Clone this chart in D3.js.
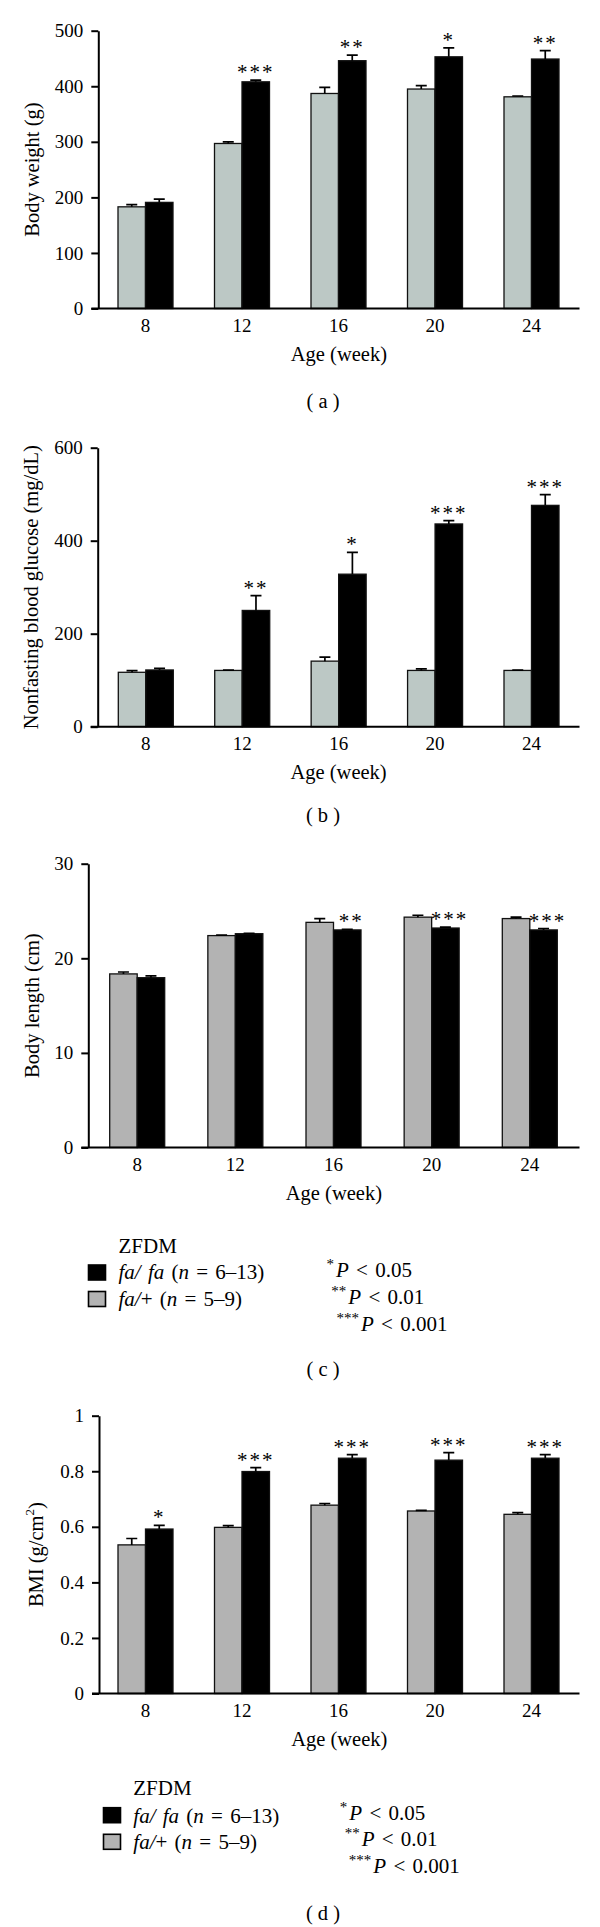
<!DOCTYPE html>
<html>
<head>
<meta charset="utf-8">
<script src="https://cdn.jsdelivr.net/npm/d3@7"></script>
<style>
  body { margin: 0; background: #fff; }
  svg { display: block; }
  text { font-family: "Liberation Serif", "Times New Roman", serif; fill: #000; }
</style>
</head>
<body>
<svg id="canvas" width="600" height="1927"></svg>
<script>
// Data (mean and upper SEM for each age)

const ages = ["8", "12", "16", "20", "24"];
const groups = ["fa/+", "fa/fa"];

// (a) body weight (g)
const weightLean = [183, 297, 387, 395, 381];
const weightLeanErr = [4, 3, 11, 6, 1.5];
const weightObese = [191, 408, 446, 453, 449];
const weightObeseErr = [6, 3, 10, 16, 15];
const weightStars = ["", "***", "**", "*", "**"];
const weightTicks = [0, 100, 200, 300, 400, 500];

// (b) nonfasting blood glucose (mg/dL)
const glucoseLean = [117, 121, 141, 121, 121];
const glucoseLeanErr = [3.5, 0.5, 8.5, 3.5, 0.5];
const glucoseObese = [122, 250, 328, 436, 476];
const glucoseObeseErr = [3.5, 32, 47, 7, 23];
const glucoseStars = ["", "**", "*", "***", "***"];
const glucoseTicks = [0, 200, 400, 600];

// (c) body length (cm)
const lengthLean = [18.35, 22.4, 23.8, 24.35, 24.2];
const lengthLeanErr = [0.2, 0.05, 0.4, 0.2, 0.15];
const lengthObese = [17.95, 22.6, 23.0, 23.2, 23.0];
const lengthObeseErr = [0.2, 0.05, 0.05, 0.1, 0.15];
const lengthStars = ["", "", "**", "***", "***"];
const lengthTicks = [0, 10, 20, 30];

// (d) BMI (g/cm2)
const bmiLean = [0.535, 0.598, 0.678, 0.657, 0.645];
const bmiLeanErr = [0.023, 0.006, 0.006, 0.002, 0.006];
const bmiObese = [0.592, 0.799, 0.847, 0.84, 0.847];
const bmiObeseErr = [0.013, 0.014, 0.013, 0.027, 0.013];
const bmiStars = ["*", "***", "***", "***", "***"];
const bmiTicks = [0, 0.2, 0.4, 0.6, 0.8, 1];

// legend text
const legendTitle = "ZFDM";
const legendItems = [
  { pieces: [["fa/ fa", true]], n: "6–13" },
  { pieces: [["fa/", true], ["+", false]], n: "5–9" }
];
const pLevels = [["*", "0.05"], ["**", "0.01"], ["***", "0.001"]];


const svg = d3.select("#canvas");

function drawPanel(p) {
  const g = svg.append("g");

  const y = d3.scaleLinear().domain([0, d3.max(p.ticks)]).range([p.bottom, p.top]);
  const x = d3.scalePoint().domain(ages).range(p.centers);
  const sub = d3.scaleBand().domain(groups).range([-27, 28]);
  const bw = sub.bandwidth();

  const rows = ages.map((a, i) => ({
    age: a, i: i,
    bars: [
      { key: "fa/+", v: p.lean[i], e: p.leanErr[i] },
      { key: "fa/fa", v: p.obese[i], e: p.obeseErr[i] }
    ]
  }));

  const grp = g.selectAll("g.age").data(rows).join("g")
      .attr("class", "age")
      .attr("transform", d => "translate(" + x(d.age) + ",0)");

  grp.selectAll("rect").data(d => d.bars).join("rect")
      .attr("x", d => sub(d.key))
      .attr("width", bw)
      .attr("y", d => y(d.v))
      .attr("height", d => y(0) - y(d.v))
      .attr("fill", d => d.key === "fa/fa" ? "#000" : p.gray)
      .attr("stroke", "#111")
      .attr("stroke-width", 1.3);

  // upper error bars only
  grp.selectAll("path.err").data(d => d.bars).join("path")
      .attr("class", "err")
      .attr("d", d => {
        const cx = sub(d.key) + bw / 2, y1 = y(d.v), y2 = y(d.v + d.e);
        return "M" + cx + "," + y1 + "V" + y2 + "M" + (cx - 5.5) + "," + y2 + "H" + (cx + 5.5);
      })
      .attr("fill", "none")
      .attr("stroke", "#000")
      .attr("stroke-width", 1.7);

  // significance stars over the fa/fa bar
  grp.append("text")
      .attr("x", sub("fa/fa") + bw / 2 + p.starShift)
      .attr("y", d => y(p.obese[d.i] + p.obeseErr[d.i]) - 1)
      .attr("text-anchor", "middle")
      .attr("font-size", 21)
      .attr("letter-spacing", 2)
      .text(d => p.stars[d.i]);

  // x axis line, runs from the y tick ends to the right edge
  g.append("line")
      .attr("x1", p.axisX - 7).attr("x2", 579.5)
      .attr("y1", y(0)).attr("y2", y(0))
      .attr("stroke", "#000").attr("stroke-width", 2);

  const xAxis = g.append("g")
      .attr("transform", "translate(0," + y(0) + ")")
      .call(d3.axisBottom(x).tickSize(0).tickPadding(10));
  xAxis.select(".domain").remove();
  xAxis.attr("font-family", null).attr("font-size", 19);

  const yAxis = g.append("g")
      .attr("transform", "translate(" + p.axisX + ",0)")
      .call(d3.axisLeft(y).tickValues(p.ticks).tickSize(7).tickSizeOuter(0).tickPadding(8)
        .tickFormat(d => String(+d.toFixed(1))));
  yAxis.attr("font-family", null).attr("font-size", 19);
  yAxis.select(".domain").attr("stroke-width", 2);
  yAxis.selectAll(".tick line").attr("stroke-width", 2);

  // axis titles
  g.append("text")
      .attr("x", (p.axisX + 579.5) / 2)
      .attr("y", y(0) + 52)
      .attr("text-anchor", "middle")
      .attr("font-size", 20.5)
      .text("Age (week)");

  const yt = g.append("text")
      .attr("transform", "translate(" + p.titleX + "," + (p.top + p.bottom) / 2 + ") rotate(-90)")
      .attr("text-anchor", "middle")
      .attr("font-size", 20.5);
  yt.append("tspan").text(p.title);
  if (p.sup) {
    yt.append("tspan").attr("font-size", 13).attr("dy", -9).text(p.sup);
    yt.append("tspan").attr("dy", 9).text(p.titleEnd);
  }

  // panel letter
  g.append("text")
      .attr("x", 323)
      .attr("y", p.letterY)
      .attr("text-anchor", "middle")
      .attr("font-family", "'Liberation Sans', Arial, sans-serif")
      .attr("font-size", 20.5)
      .attr("xml:space", "preserve")
      .text("( " + p.letter + " )");
}

function drawLegend(L) {
  const g = svg.append("g");

  g.append("text").attr("x", L.textX).attr("y", L.titleY).attr("font-size", 21).text(legendTitle);

  legendItems.forEach((item, i) => {
    g.append("rect")
        .attr("x", L.boxX).attr("y", L.boxY[i])
        .attr("width", 17).attr("height", 15)
        .attr("fill", i === 0 ? "#000" : L.gray)
        .attr("stroke", "#000").attr("stroke-width", 1.6);
    const t = g.append("text").attr("x", L.textX).attr("y", L.textY[i]).attr("font-size", 21)
        .attr("word-spacing", 2);
    item.pieces.forEach(pc => {
      t.append("tspan").attr("font-style", pc[1] ? "italic" : "normal").text(pc[0]);
    });
    t.append("tspan").text(" (");
    t.append("tspan").attr("font-style", "italic").text("n");
    t.append("tspan").text(" = " + item.n + ")");
  });

  pLevels.forEach((lv, i) => {
    g.append("text")
        .attr("x", L.pX[i] - 2).attr("y", L.pY[i] - 8)
        .attr("text-anchor", "end")
        .attr("font-size", 15)
        .text(lv[0]);
    const t = g.append("text").attr("x", L.pX[i]).attr("y", L.pY[i]).attr("font-size", 21)
        .attr("word-spacing", 2);
    t.append("tspan").attr("font-style", "italic").text("P");
    t.append("tspan").text(" < " + lv[1]);
  });
}

drawPanel({
  lean: weightLean, leanErr: weightLeanErr, obese: weightObese, obeseErr: weightObeseErr,
  stars: weightStars, ticks: weightTicks, starShift: 0,
  top: 30.7, bottom: 308.5, axisX: 98.3, centers: [145, 531],
  gray: "#bcc8c5", title: "Body weight (g)", titleX: 39,
  letter: "a", letterY: 408
});

drawPanel({
  lean: glucoseLean, leanErr: glucoseLeanErr, obese: glucoseObese, obeseErr: glucoseObeseErr,
  stars: glucoseStars, ticks: glucoseTicks, starShift: 0,
  top: 447.7, bottom: 726.7, axisX: 97.7, centers: [145.3, 531],
  gray: "#bcc8c5", title: "Nonfasting blood glucose (mg/dL)", titleX: 38,
  letter: "b", letterY: 822
});

drawPanel({
  lean: lengthLean, leanErr: lengthLeanErr, obese: lengthObese, obeseErr: lengthObeseErr,
  stars: lengthStars, ticks: lengthTicks, starShift: 4,
  top: 863.7, bottom: 1147.5, axisX: 88.3, centers: [136.7, 529.3],
  gray: "#b3b3b3", title: "Body length (cm)", titleX: 39,
  letter: "c", letterY: 1375.5
});

drawLegend({
  gray: "#b3b3b3", boxX: 88.5, boxY: [1265, 1291.5], textX: 118.5, titleY: 1253.3,
  textY: [1279, 1306], pX: [336, 348.3, 361], pY: [1276.7, 1304, 1330.7]
});

drawPanel({
  lean: bmiLean, leanErr: bmiLeanErr, obese: bmiObese, obeseErr: bmiObeseErr,
  stars: bmiStars, ticks: bmiTicks, starShift: 0,
  top: 1415.7, bottom: 1693.5, axisX: 99, centers: [145, 531],
  gray: "#b3b3b3", title: "BMI (g/cm", sup: "2", titleEnd: ")", titleX: 43,
  letter: "d", letterY: 1920
});

drawLegend({
  gray: "#b3b3b3", boxX: 103.5, boxY: [1807.7, 1834.3], textX: 133.3, titleY: 1795.3,
  textY: [1822.5, 1849], pX: [349.3, 361.7, 373.3], pY: [1820.3, 1846.3, 1873]
});
</script>
</body>
</html>
